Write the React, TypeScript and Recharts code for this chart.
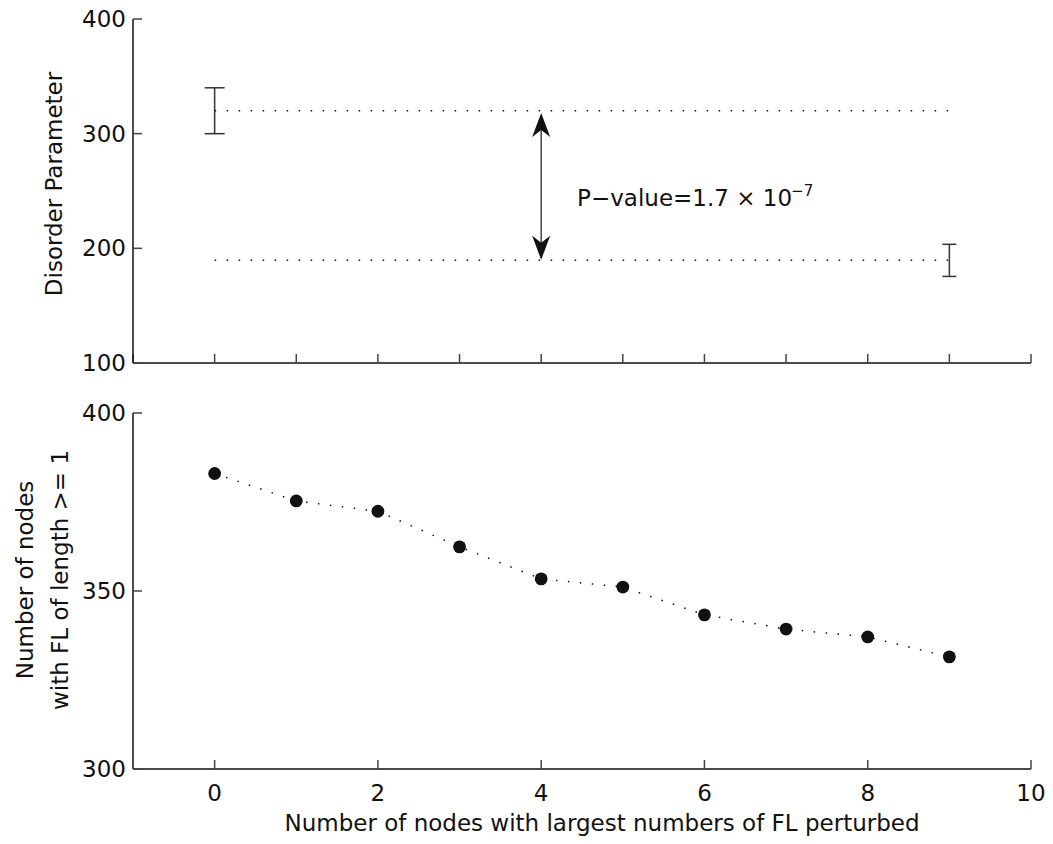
import React from 'react';
import { ComposedChart, Scatter, XAxis, YAxis, ErrorBar, ReferenceLine, ReferenceDot } from 'recharts';

// ---- tick labels ----
const xTicksTop = [-1, 0, 1, 2, 3, 4, 5, 6, 7, 8, 9, 10];
const xTicksBottom = [0, 2, 4, 6, 8, 10];
const yTicksTop = [100, 200, 300, 400];
const yTicksBottom = [300, 350, 400];

// ---- top panel: disorder parameter groups ----
const groupX = [0, 9];
const groupMean = [320, 189.5];
const groupErr = [20, 14];

// ---- annotation ----
const arrowX = 4;
const arrowFrom = 318;
const arrowTo = 190;
const annotX = 4.44;
const annotY = 237;
const annotText = 'P\u2212value=1.7 \u00d7 10';
const annotSup = '\u22127';

// ---- bottom panel ----
const nodesPerturbed = [0, 1, 2, 3, 4, 5, 6, 7, 8, 9];
const nodesCount = [383, 375.3, 372.4, 362.4, 353.4, 351.1, 343.3, 339.3, 337.1, 331.5];
const nodesErr = [0, 0, 0, 0, 0, 0, 0, 0, 0, 0];

const FONT = "'DejaVu Sans', 'Liberation Sans', sans-serif";
const TICK_STYLE = { fill: '#111', fontSize: 23, fontFamily: FONT };
const AXIS_LINE = { stroke: '#111', strokeWidth: 1.5 };
const TICK_LINE = { stroke: '#444', strokeWidth: 1.5 };
const DOTTED = { stroke: '#111', strokeWidth: 1.5, strokeDasharray: '1.5 10.5' };

const leftBar = [{ x: groupX[0], y: groupMean[0], err: groupErr[0] }];
const rightBar = [{ x: groupX[1], y: groupMean[1], err: groupErr[1] }];
const upperLine = [
  { x: groupX[0], y: groupMean[0] },
  { x: groupX[1], y: groupMean[0] },
];
const lowerLine = [
  { x: groupX[0], y: groupMean[1] },
  { x: groupX[1], y: groupMean[1] },
];
const nodesData = nodesPerturbed.map((x, i) => ({ x, y: nodesCount[i], err: nodesErr[i] }));

const EmptyTick = () => <g />;
const EmptyShape = () => <g />;

const DotShape = (props: any) => {
  const { cx, cy } = props;
  if (cx == null || cy == null) return <g />;
  return <circle cx={cx} cy={cy} r={6.4} fill="#111" />;
};

const ArrowShape = (props: any) => {
  const { x1, y1, x2, y2 } = props;
  if (x1 == null) return <g />;
  const top = Math.min(y1, y2);
  const bot = Math.max(y1, y2);
  const x = x1;
  const hw = 9;
  const hl = 24;
  const notch = 17;
  return (
    <g>
      <line x1={x} y1={top + 10} x2={x} y2={bot - 10} stroke="#444" strokeWidth={1.5} />
      <polygon
        points={`${x},${top} ${x + hw},${top + hl} ${x},${top + notch} ${x - hw},${top + hl}`}
        fill="#111"
      />
      <polygon
        points={`${x},${bot} ${x + hw},${bot - hl} ${x},${bot - notch} ${x - hw},${bot - hl}`}
        fill="#111"
      />
    </g>
  );
};

const AnnotationShape = (props: any) => {
  const { cx, cy } = props;
  if (cx == null) return <g />;
  return (
    <text x={cx} y={cy} fill="#111" fontSize={23} fontFamily={FONT}>
      {annotText}
      <tspan dy={-10} dx={-1} fontSize={15}>
        {annotSup}
      </tspan>
    </text>
  );
};

const TopYLabel = (props: any) => {
  const vb = props.viewBox || { x: 73, y: 19, width: 60, height: 344 };
  const x = vb.x - 11;
  const y = vb.y + vb.height / 2 - 7;
  return (
    <text x={x} y={y} transform={`rotate(-90 ${x} ${y})`} textAnchor="middle" fill="#111" fontSize={23} fontFamily={FONT}>
      Disorder Parameter
    </text>
  );
};

const BottomYLabel = (props: any) => {
  const vb = props.viewBox || { x: 73, y: 13, width: 60, height: 356 };
  const cy = vb.y + vb.height / 2 - 11;
  const xa = vb.x - 40;
  const xb = vb.x - 5;
  return (
    <g fill="#111" fontSize={23} fontFamily={FONT}>
      <text x={xa} y={cy} transform={`rotate(-90 ${xa} ${cy})`} textAnchor="middle">
        Number of nodes
      </text>
      <text x={xb} y={cy} transform={`rotate(-90 ${xb} ${cy})`} textAnchor="middle">
        {'with FL of length >= 1'}
      </text>
    </g>
  );
};

const BottomXLabel = (props: any) => {
  const vb = props.viewBox || { x: 133, y: 369, width: 898, height: 60 };
  const x = vb.x + vb.width / 2 + 20;
  const y = vb.y + 62;
  return (
    <text x={x} y={y} textAnchor="middle" fill="#111" fontSize={23} fontFamily={FONT}>
      Number of nodes with largest numbers of FL perturbed
    </text>
  );
};

export default function App() {
  return (
    <div style={{ position: 'absolute', left: 0, top: 0, width: 1053, height: 844, background: '#fff' }}>
      <div style={{ position: 'absolute', left: 0, top: 0 }}>
        <ComposedChart width={1053} height={400} margin={{ top: 19, right: 22, bottom: 7, left: 73 }}>
          <XAxis
            dataKey="x"
            type="number"
            domain={[-1, 10]}
            ticks={xTicksTop}
            interval={0}
            allowDataOverflow
            height={30}
            tickSize={-9}
            tick={EmptyTick}
            axisLine={AXIS_LINE}
            tickLine={TICK_LINE}
          />
          <XAxis
            xAxisId="top"
            orientation="top"
            type="number"
            domain={[-1, 10]}
            ticks={xTicksTop}
            interval={0}
            allowDataOverflow
            height={0}
            tickSize={-9}
            tick={EmptyTick}
            axisLine={AXIS_LINE}
            tickLine={TICK_LINE}
          />
          <YAxis
            dataKey="y"
            type="number"
            domain={[100, 400]}
            ticks={yTicksTop}
            interval={0}
            allowDataOverflow
            width={60}
            tickSize={-9}
            tickMargin={16}
            tick={TICK_STYLE}
            axisLine={AXIS_LINE}
            tickLine={TICK_LINE}
            label={<TopYLabel />}
          />
          <YAxis
            yAxisId="right"
            orientation="right"
            type="number"
            domain={[100, 400]}
            ticks={yTicksTop}
            interval={0}
            allowDataOverflow
            width={0}
            tickSize={-9}
            tick={EmptyTick}
            axisLine={AXIS_LINE}
            tickLine={TICK_LINE}
          />
          <Scatter data={upperLine} line={DOTTED} shape={EmptyShape} isAnimationActive={false} />
          <Scatter data={lowerLine} line={DOTTED} shape={EmptyShape} isAnimationActive={false} />
          <Scatter data={leftBar} shape={EmptyShape} isAnimationActive={false}>
            <ErrorBar dataKey="err" direction="y" width={10} stroke="#333" strokeWidth={1.5} isAnimationActive={false} />
          </Scatter>
          <Scatter data={rightBar} shape={EmptyShape} isAnimationActive={false}>
            <ErrorBar dataKey="err" direction="y" width={7} stroke="#333" strokeWidth={1.5} isAnimationActive={false} />
          </Scatter>
          <ReferenceLine
            segment={[
              { x: arrowX, y: arrowFrom },
              { x: arrowX, y: arrowTo },
            ]}
            shape={ArrowShape}
          />
          <ReferenceDot x={annotX} y={annotY} r={0} shape={AnnotationShape} />
        </ComposedChart>
      </div>
      <div style={{ position: 'absolute', left: 0, top: 400 }}>
        <ComposedChart width={1053} height={444} margin={{ top: 13, right: 22, bottom: 15, left: 73 }}>
          <XAxis
            dataKey="x"
            type="number"
            domain={[-1, 10]}
            ticks={xTicksBottom}
            interval={0}
            allowDataOverflow
            height={60}
            tickSize={-9}
            tickMargin={25}
            tick={TICK_STYLE}
            axisLine={AXIS_LINE}
            tickLine={TICK_LINE}
            label={<BottomXLabel />}
          />
          <XAxis
            xAxisId="top"
            orientation="top"
            type="number"
            domain={[-1, 10]}
            ticks={xTicksBottom}
            interval={0}
            allowDataOverflow
            height={0}
            tickSize={-9}
            tick={EmptyTick}
            axisLine={AXIS_LINE}
            tickLine={TICK_LINE}
          />
          <YAxis
            dataKey="y"
            type="number"
            domain={[300, 400]}
            ticks={yTicksBottom}
            interval={0}
            allowDataOverflow
            width={60}
            tickSize={-9}
            tickMargin={16}
            tick={TICK_STYLE}
            axisLine={AXIS_LINE}
            tickLine={TICK_LINE}
            label={<BottomYLabel />}
          />
          <YAxis
            yAxisId="right"
            orientation="right"
            type="number"
            domain={[300, 400]}
            ticks={yTicksBottom}
            interval={0}
            allowDataOverflow
            width={0}
            tickSize={-9}
            tick={EmptyTick}
            axisLine={AXIS_LINE}
            tickLine={TICK_LINE}
          />
          <Scatter data={nodesData} line={DOTTED} shape={DotShape} isAnimationActive={false}>
            <ErrorBar dataKey="err" direction="y" width={8} stroke="#111" strokeWidth={1.5} isAnimationActive={false} />
          </Scatter>
        </ComposedChart>
      </div>
    </div>
  );
}
